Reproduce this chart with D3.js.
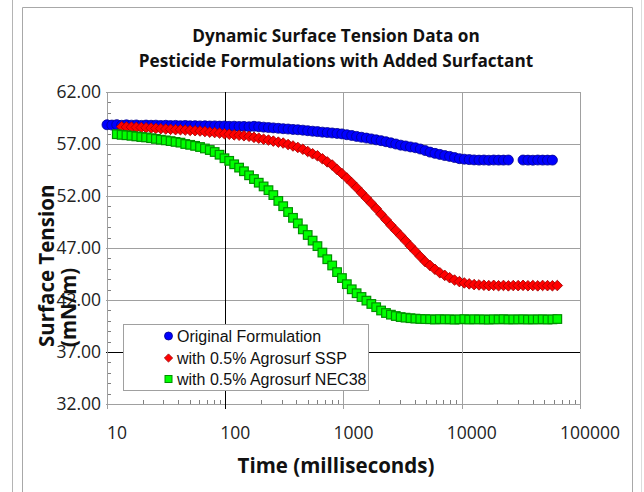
<!DOCTYPE html>
<html>
<head>
<meta charset="utf-8">
<script src="https://cdn.jsdelivr.net/npm/d3@7"></script>
<style>
  html, body { margin: 0; padding: 0; background: #fff; }
  svg { display: block; }
</style>
</head>
<body>
<svg id="chart" width="644" height="492"></svg>
<script>
// ---------------- data ----------------
const titleLines = ["Dynamic Surface Tension Data on", "Pesticide Formulations with Added Surfactant"];
const xTitle = "Time (milliseconds)";
const yTitleLines = ["Surface Tension", "(mN/m)"];
const xTickValues = [10, 100, 1000, 10000, 100000];
const xTickLabels = ["10", "100", "1000", "10000", "100000"];
const yTickValues = [32, 37, 42, 47, 52, 57, 62];
const seriesNames = ["Original Formulation", "with 0.5% Agrosurf SSP", "with 0.5% Agrosurf NEC38"];

// time (ms) of each measurement
const times = [10, 11, 12.1, 13.3, 14.6, 16.1, 17.7, 19.5, 21.4, 23.6,
  25.9, 28.5, 31.4, 34.5, 38.0, 41.8, 45.9, 50.5, 55.6, 61.2,
  67.3, 74.0, 81.4, 89.5, 98.5, 108, 119, 131, 144, 159,
  175, 192, 211, 232, 255, 281, 309, 340, 374, 411,
  453, 498, 548, 602, 663, 729, 802, 882, 970, 1067,
  1174, 1291, 1420, 1562, 1719, 1890, 2079, 2287, 2516, 2768,
  3045, 3349, 3684, 4053, 4458, 4904, 5394, 5934, 6527, 7180,
  7898, 8688, 9556, 10512, 11563, 12720, 13992, 15391, 16930, 18623,
  20485, 22534, 24787, 27266, 29993, 32992, 36291, 39920, 43912, 48304,
  53134, 58447, 64292];

// surface tension (mN/m); null = no reading
const original = [58.85, 58.82, 58.86, 58.80, 58.84, 58.81, 58.83, 58.79, 58.82, 58.80,
  58.81, 58.78, 58.80, 58.77, 58.79, 58.76, 58.78, 58.75, 58.76, 58.74,
  58.75, 58.73, 58.74, 58.72, 58.73, 58.70, 58.71, 58.68, 58.69, 58.66,
  58.70, 58.66, 58.62, 58.58, 58.55, 58.51, 58.47, 58.44, 58.40, 58.37,
  58.33, 58.28, 58.23, 58.19, 58.14, 58.10, 58.06, 58.02, 57.97, 57.89,
  57.82, 57.73, 57.65, 57.57, 57.49, 57.40, 57.32, 57.22, 57.11, 57.00,
  56.89, 56.81, 56.72, 56.64, 56.52, 56.37, 56.22, 56.10, 56.00, 55.89,
  55.81, 55.70, 55.59, 55.54, 55.50, 55.47, 55.45, 55.46, 55.44, 55.46,
  55.45, 55.45, 55.46, null, null, 55.46, 55.45, 55.44, 55.46, 55.45,
  55.45, 55.45, null];

const agrosurfSSP = [null, null, null, 58.66, 58.64, 58.62, 58.60, 58.58, 58.56, 58.53,
  58.50, 58.47, 58.44, 58.41, 58.38, 58.37, 58.34, 58.31, 58.28, 58.25,
  58.20, 58.14, 58.10, 58.05, 57.99, 57.94, 57.88, 57.84, 57.79, 57.74,
  57.64, 57.56, 57.46, 57.38, 57.28, 57.18, 57.09, 56.95, 56.81, 56.67,
  56.50, 56.28, 56.06, 55.87, 55.58, 55.28, 54.98, 54.55, 54.15, 53.73,
  53.27, 52.80, 52.30, 51.80, 51.30, 50.79, 50.25, 49.72, 49.19, 48.69,
  48.19, 47.69, 47.18, 46.68, 46.18, 45.69, 45.32, 44.95, 44.62, 44.37,
  44.14, 43.92, 43.77, 43.64, 43.55, 43.48, 43.45, 43.42, 43.38, 43.41,
  43.37, 43.40, 43.36, 43.39, 43.38, 43.41, 43.37, 43.39, 43.36, 43.40,
  43.38, 43.37, 43.39];

const agrosurfNEC38 = [null, null, 57.94, 57.88, 57.84, 57.79, 57.73, 57.67, 57.63, 57.56,
  57.49, 57.41, 57.35, 57.28, 57.20, 57.13, 57.00, 56.92, 56.82, 56.71,
  56.57, 56.42, 56.23, 55.97, 55.63, 55.38, 55.05, 54.73, 54.38, 53.99,
  53.63, 53.28, 52.92, 52.56, 52.09, 51.53, 51.02, 50.46, 49.90, 49.37,
  48.79, 48.25, 47.71, 47.18, 46.56, 45.92, 45.32, 44.68, 44.11, 43.52,
  43.03, 42.65, 42.29, 41.94, 41.62, 41.31, 40.99, 40.75, 40.59, 40.46,
  40.36, 40.30, 40.25, 40.21, 40.18, 40.16, 40.15, 40.12, 40.16, 40.13,
  40.15, 40.11, 40.14, 40.16, 40.12, 40.15, 40.13, 40.14, 40.11, 40.15,
  40.13, 40.16, 40.12, 40.14, 40.13, 40.15, 40.12, 40.14, 40.13, 40.15,
  40.12, 40.14, 40.17];

// ---------------- drawing ----------------
const svg = d3.select("#chart");
const plot = { left: 107, right: 580, top: 92, bottom: 404 };
const x = d3.scaleLog().domain([10, 100000]).range([plot.left, plot.right]);
const y = d3.scaleLinear().domain([32, 62]).range([plot.bottom, plot.top]);

const titleFont = "'Open Sans', 'Noto Sans', sans-serif";
const grid = "#a0a0a0";

// outer frame
svg.append("rect").attr("x", 0).attr("y", 0).attr("width", 644).attr("height", 492).attr("fill", "#fff");
svg.append("line").attr("x1", 12.5).attr("x2", 12.5).attr("y1", 0).attr("y2", 492).attr("stroke", "#b4b4b4");
svg.append("line").attr("x1", 641.5).attr("x2", 641.5).attr("y1", 0).attr("y2", 492).attr("stroke", "#dcdcdc");
svg.append("path").attr("d", "M22.5,492V7.5H632.5V492").attr("fill", "none").attr("stroke", "#a8a8a8");

// minor ticks (inside)
const yMinor = d3.range(32, 63, 1).filter(v => !yTickValues.includes(v));
svg.append("g").selectAll("line").data(yMinor).join("line")
  .attr("x1", plot.left).attr("x2", plot.left + 4)
  .attr("y1", d => Math.round(y(d)) + 0.5).attr("y2", d => Math.round(y(d)) + 0.5)
  .attr("stroke", "#808080");
const xMinor = [];
[10, 100, 1000, 10000].forEach(p => { for (let k = 2; k <= 9; k++) xMinor.push(p * k); });
svg.append("g").selectAll("line").data(xMinor).join("line")
  .attr("x1", d => Math.round(x(d)) + 0.5).attr("x2", d => Math.round(x(d)) + 0.5)
  .attr("y1", plot.bottom).attr("y2", plot.bottom - 4)
  .attr("stroke", "#808080");

// horizontal gridlines
svg.append("g").selectAll("line").data(yTickValues).join("line")
  .attr("x1", plot.left - 1).attr("x2", plot.right)
  .attr("y1", d => Math.round(y(d)) + 0.5).attr("y2", d => Math.round(y(d)) + 0.5)
  .attr("stroke", d => d === 37 ? "#000" : grid);
// vertical gridlines
svg.append("g").selectAll("line").data(xTickValues).join("line")
  .attr("x1", d => Math.round(x(d)) + 0.5).attr("x2", d => Math.round(x(d)) + 0.5)
  .attr("y1", plot.top).attr("y2", plot.bottom + 5)
  .attr("stroke", d => d === 100 ? "#000" : grid);

// y tick labels
svg.append("g").selectAll("text").data(yTickValues).join("text")
  .attr("x", 101).attr("y", d => y(d)).attr("dy", "0.36em")
  .attr("text-anchor", "end")
  .attr("font-family", titleFont).attr("font-size", 17.5).attr("fill", "#222")
  .text(d3.format(".2f"));
// x tick labels
svg.append("g").selectAll("text").data(xTickValues).join("text")
  .attr("x", d => x(d) + 10).attr("y", 439)
  .attr("text-anchor", "middle")
  .attr("font-family", titleFont).attr("font-size", 17.5).attr("fill", "#222")
  .text((d, i) => xTickLabels[i]);

// series
function points(vals) {
  return times.map((t, i) => ({ t, v: vals[i] })).filter(d => d.v !== null);
}
const gS = svg.append("g");
gS.append("g").selectAll("circle").data(points(original)).join("circle")
  .attr("cx", d => x(d.t)).attr("cy", d => y(d.v)).attr("r", 5)
  .attr("fill", "#0000ff").attr("stroke", "#00008b").attr("stroke-width", 0.8);
const diamond = d3.symbol().type(d3.symbolSquare).size(56);
gS.append("g").selectAll("path").data(points(agrosurfSSP)).join("path")
  .attr("d", diamond)
  .attr("transform", d => `translate(${x(d.t)},${y(d.v)}) rotate(45)`)
  .attr("fill", "#ff0000").attr("stroke", "#a00000").attr("stroke-width", 0.8);
gS.append("g").selectAll("rect").data(points(agrosurfNEC38)).join("rect")
  .attr("x", d => x(d.t) - 4.3).attr("y", d => y(d.v) - 4.3)
  .attr("width", 8.6).attr("height", 8.6)
  .attr("fill", "#00ff00").attr("stroke", "#009000").attr("stroke-width", 1.2);

// titles
svg.append("g").selectAll("text").data(titleLines).join("text")
  .attr("x", 336).attr("y", (d, i) => 42 + i * 25)
  .attr("text-anchor", "middle").attr("font-family", titleFont)
  .attr("font-weight", "bold").attr("font-size", 17.2).attr("fill", "#111")
  .text(d => d);
svg.append("text").attr("x", 336).attr("y", 473)
  .attr("text-anchor", "middle").attr("font-family", titleFont)
  .attr("font-weight", "bold").attr("font-size", 20.5).attr("fill", "#111")
  .text(xTitle);
svg.append("g").selectAll("text").data(yTitleLines).join("text")
  .attr("transform", (d, i) => `translate(${54 + i * 22},347) rotate(-90)`)
  .attr("text-anchor", "start").attr("font-family", titleFont)
  .attr("font-weight", "bold").attr("font-size", 20.5).attr("fill", "#111")
  .text(d => d);

// legend
const lg = svg.append("g");
lg.append("rect").attr("x", 123.5).attr("y", 324.5).attr("width", 245).attr("height", 66)
  .attr("fill", "#fff").attr("stroke", "#a0a0a0");
const rowY = [336, 358, 379];
lg.append("circle").attr("cx", 168.5).attr("cy", rowY[0]).attr("r", 4)
  .attr("fill", "#0000ff").attr("stroke", "#00008b").attr("stroke-width", 0.8);
lg.append("path").attr("d", d3.symbol().type(d3.symbolSquare).size(34))
  .attr("transform", `translate(168.5,${rowY[1]}) rotate(45)`)
  .attr("fill", "#ff0000").attr("stroke", "#a00000").attr("stroke-width", 0.8);
lg.append("rect").attr("x", 165).attr("y", rowY[2] - 3.5).attr("width", 7).attr("height", 7)
  .attr("fill", "#00ff00").attr("stroke", "#009000").attr("stroke-width", 1);
lg.selectAll("text").data(seriesNames).join("text")
  .attr("x", 177).attr("y", (d, i) => rowY[i] + 6)
  .attr("font-family", "'Liberation Sans', Arial, sans-serif").attr("font-size", 16).attr("fill", "#111")
  .text(d => d);
</script>
</body>
</html>
